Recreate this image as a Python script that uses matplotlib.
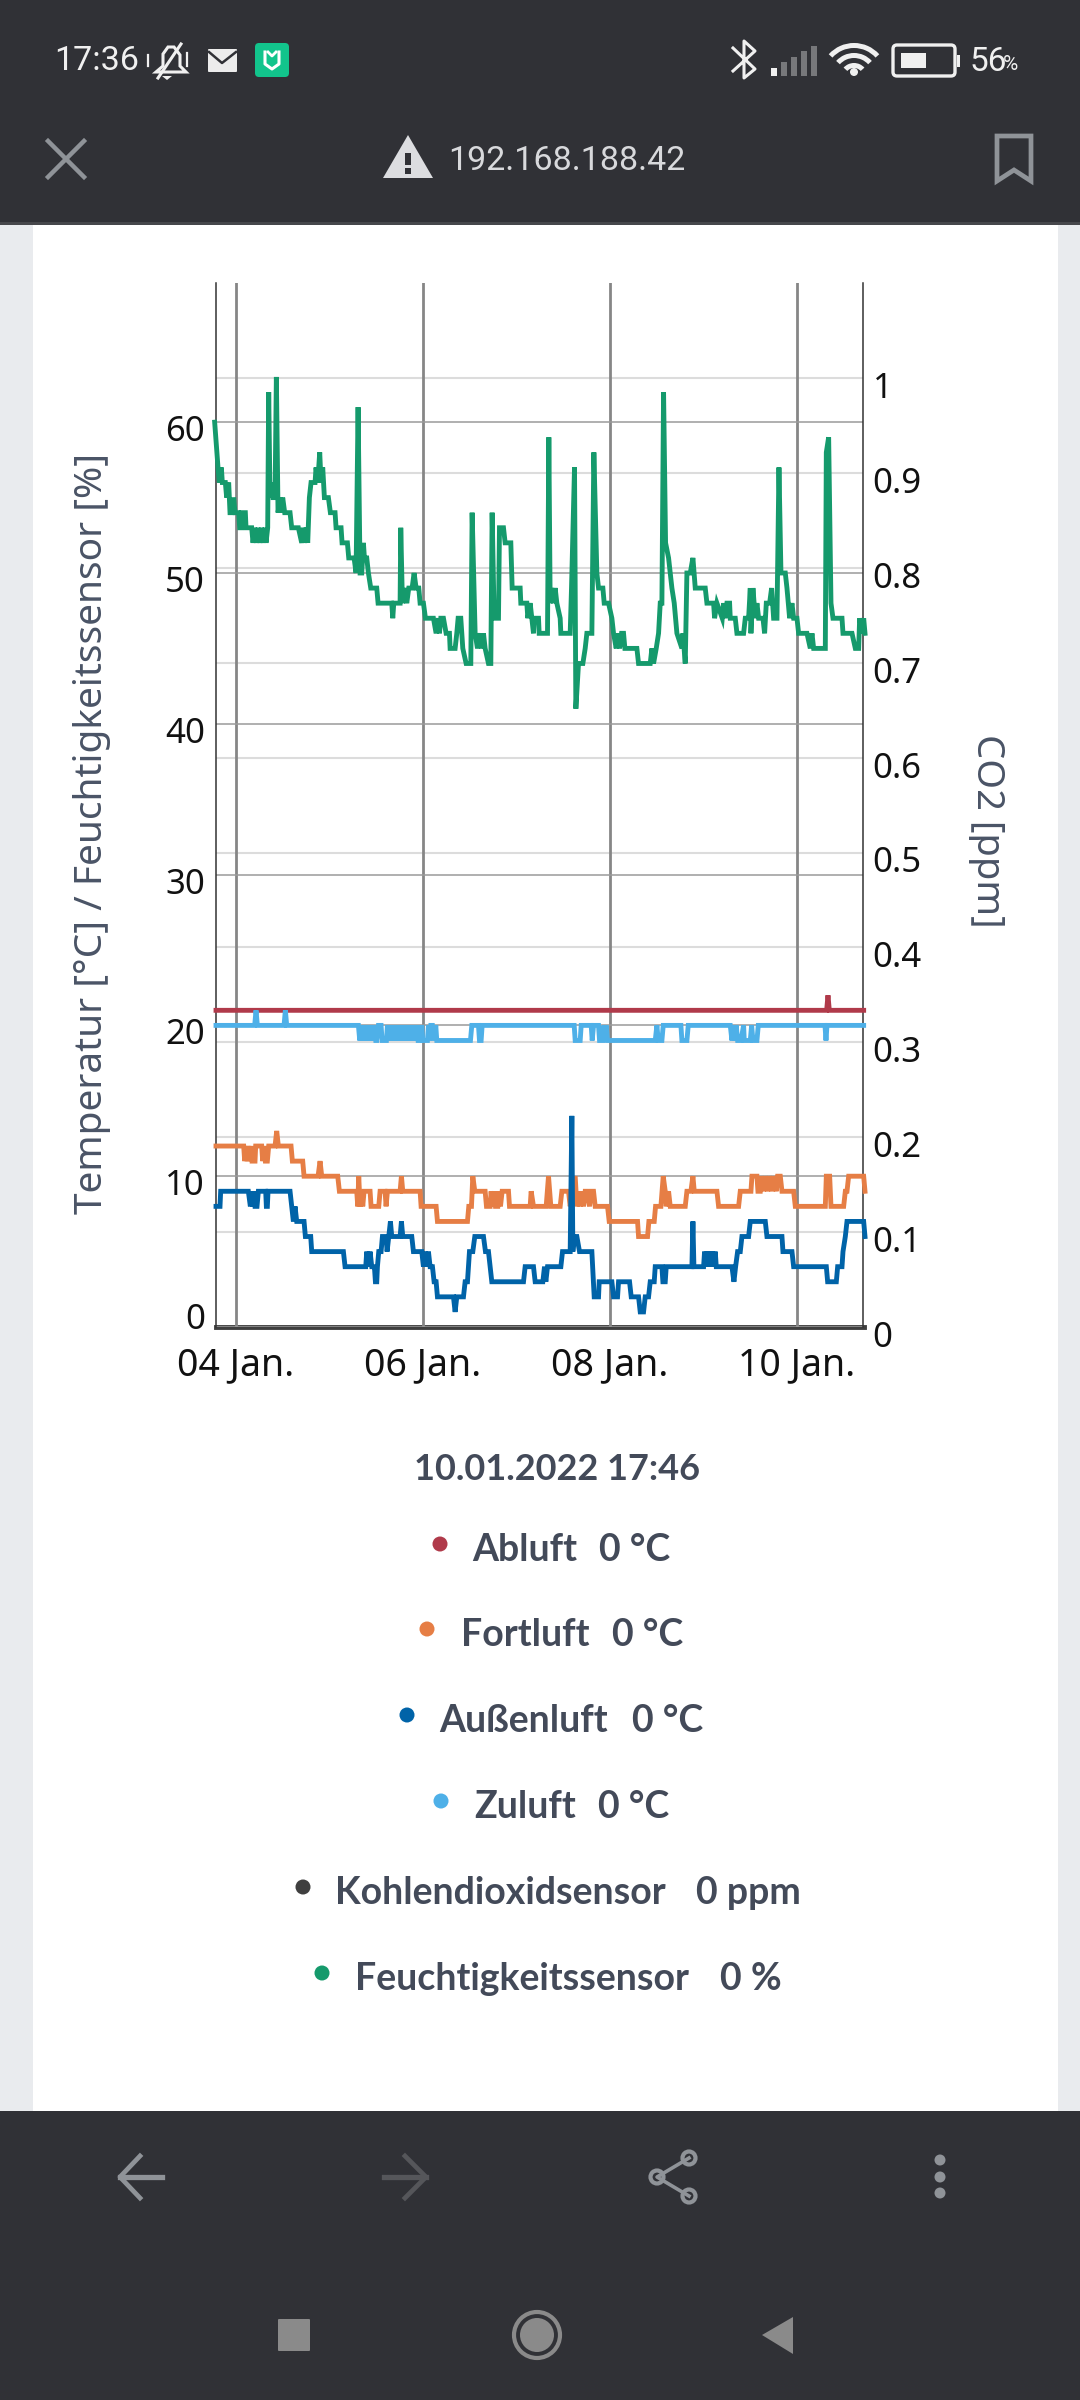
import numpy as np
import matplotlib
matplotlib.use('Agg')
import matplotlib.pyplot as plt
from matplotlib.patches import Rectangle, Circle, Polygon, FancyBboxPatch, Wedge
from matplotlib.transforms import ScaledTranslation

plt.rcParams['font.family'] = ['Noto Sans', 'DejaVu Sans']

# readings as (sample number, value), one sample is about 5 minutes, 0 = 04 Jan 00:00
SAMPLE_H = 48 / 561

abluft = [(-59, 21), (1772, 21), (1776, 22), (1780, 21), (1883, 21)]

fortluft = [(-59, 12), (24, 12), (27, 11), (31, 12), (34, 11), (38, 12), (41, 11), (46, 12), (49, 11), (58, 11), (60, 12),
            (78, 12), (81, 11), (85, 12), (89, 11), (95, 11), (99, 12), (118, 12), (123, 13), (128, 12), (166, 12), (170, 11),
            (201, 11), (205, 10), (247, 10), (253, 11), (258, 10), (306, 10), (311, 9), (363, 9), (366, 8), (369, 10),
            (373, 8), (378, 9), (381, 8), (385, 9), (403, 9), (406, 8), (429, 8), (433, 9), (448, 9), (451, 8), (455, 9),
            (493, 9), (497, 10), (501, 9), (553, 9), (556, 8), (601, 8), (605, 7), (695, 7), (699, 8), (707, 8), (711, 10),
            (717, 9), (748, 9), (752, 8), (763, 8), (766, 9), (770, 8), (776, 9), (779, 8), (786, 8), (789, 9), (794, 8),
            (799, 9), (818, 9), (821, 8), (883, 8), (886, 9), (893, 8), (931, 8), (938, 10), (945, 8), (973, 8), (978, 9),
            (998, 9), (1003, 8), (1018, 10), (1023, 8), (1028, 9), (1033, 8), (1038, 9), (1043, 8), (1048, 9), (1053, 9),
            (1061, 8), (1066, 9), (1073, 9), (1078, 8), (1115, 8), (1120, 7), (1205, 7), (1208, 6), (1235, 6), (1239, 7),
            (1255, 7), (1259, 8), (1275, 8), (1282, 10), (1288, 9), (1291, 8), (1298, 9), (1303, 8), (1348, 8), (1353, 9),
            (1365, 9), (1371, 10), (1375, 9), (1443, 9), (1448, 8), (1508, 8), (1513, 9), (1545, 9), (1548, 10), (1563, 10),
            (1566, 9), (1573, 9), (1576, 10), (1583, 9), (1588, 10), (1595, 9), (1601, 10), (1608, 9), (1613, 10), (1621, 9),
            (1625, 10), (1633, 10), (1638, 9), (1673, 9), (1678, 8), (1768, 8), (1771, 10), (1781, 10), (1785, 8), (1823, 8),
            (1828, 9), (1833, 9), (1838, 10), (1883, 10), (1887, 9)]

aussenluft = [(-59, 8), (-47, 8), (-45, 9), (38, 9), (44, 8), (48, 9), (52, 8), (55, 9), (58, 8), (64, 8), (68, 9), (90, 9),
              (92, 8), (95, 8), (97, 9), (163, 9), (168, 8), (173, 7), (178, 8), (183, 7), (205, 7), (209, 6), (225, 6),
              (228, 5), (323, 5), (328, 4), (390, 4), (393, 5), (398, 4), (403, 5), (408, 4), (416, 4), (419, 3), (423, 3),
              (425, 4), (429, 5), (436, 5), (440, 6), (451, 6), (454, 5), (459, 6), (464, 7), (468, 6), (493, 6), (497, 7),
              (501, 6), (528, 6), (533, 5), (558, 5), (563, 4), (568, 5), (573, 4), (578, 5), (583, 4), (590, 4), (595, 3),
              (601, 3), (605, 2), (653, 2), (658, 1), (663, 2), (683, 2), (688, 3), (695, 3), (701, 5), (711, 5), (717, 6),
              (743, 6), (749, 5), (758, 5), (763, 4), (768, 3), (863, 3), (868, 4), (893, 4), (898, 3), (921, 3), (926, 4),
              (930, 3), (935, 4), (975, 4), (980, 5), (1003, 5), (1008, 14), (1011, 5), (1015, 6), (1023, 6), (1031, 5),
              (1068, 5), (1075, 2), (1088, 2), (1090, 3), (1128, 3), (1133, 2), (1145, 2), (1148, 3), (1181, 3), (1186, 2),
              (1208, 2), (1213, 1), (1223, 1), (1228, 2), (1238, 2), (1243, 3), (1255, 3), (1258, 4), (1278, 4), (1281, 3),
              (1288, 3), (1291, 4), (1368, 4), (1371, 7), (1374, 4), (1403, 4), (1406, 5), (1410, 4), (1414, 5), (1418, 4),
              (1422, 5), (1426, 4), (1430, 5), (1434, 4), (1438, 5), (1441, 4), (1488, 4), (1494, 3), (1499, 4), (1505, 5),
              (1513, 5), (1518, 6), (1538, 6), (1543, 7), (1588, 7), (1593, 6), (1638, 6), (1641, 5), (1668, 5), (1673, 4),
              (1771, 4), (1775, 3), (1801, 3), (1805, 4), (1818, 4), (1821, 5), (1828, 6), (1833, 7), (1883, 7), (1887, 6)]

zuluft = [(-59, 20), (57, 20), (61, 21), (65, 20), (145, 20), (149, 21), (153, 20), (368, 20), (372, 19), (376, 20), (380, 19),
          (384, 20), (388, 19), (392, 20), (396, 19), (400, 20), (404, 19), (408, 20), (412, 19), (416, 20), (420, 19), (423, 19),
          (428, 20), (436, 20), (439, 19), (452, 19), (455, 20), (458, 19), (463, 20), (467, 19), (471, 20), (475, 19), (479, 20),
          (483, 19), (487, 20), (491, 19), (495, 20), (499, 19), (503, 20), (507, 19), (511, 20), (515, 19), (519, 20), (523, 19),
          (527, 20), (531, 19), (535, 20), (539, 19), (543, 20), (547, 19), (553, 19), (558, 20), (561, 19), (568, 19), (575, 19),
          (578, 20), (581, 19), (585, 20), (590, 20), (595, 19), (600, 20), (603, 19), (704, 19), (708, 20), (728, 20), (731, 19),
          (736, 19), (739, 20), (1015, 20), (1018, 19), (1033, 19), (1036, 20), (1066, 20), (1069, 19), (1073, 20), (1088, 20),
          (1091, 19), (1101, 19), (1104, 20), (1107, 19), (1111, 20), (1115, 19), (1258, 19), (1263, 20), (1267, 19), (1278, 19),
          (1282, 20), (1335, 20), (1338, 19), (1353, 19), (1357, 20), (1483, 20), (1488, 19), (1493, 20), (1497, 19), (1501, 20),
          (1505, 19), (1515, 19), (1523, 20), (1525, 19), (1543, 19), (1547, 20), (1551, 19), (1563, 19), (1567, 20), (1767, 20),
          (1770, 19), (1773, 20), (1883, 20)]

kohlendioxid = [(-59, 0.0), (1883, 0.0)]

feuchte = [(-63, 60), (-53, 57), (-49, 56), (-43, 57), (-40, 56), (-31, 56), (-27, 55), (-21, 56), (-17, 54), (-9, 54), (-6, 55),
           (-2, 54), (9, 54), (12, 53), (17, 53), (18, 54), (29, 54), (31, 53), (48, 53), (52, 52), (57, 53), (62, 52), (67, 53),
           (73, 52), (78, 53), (83, 52), (88, 53), (91, 52), (96, 53), (99, 62), (103, 55), (108, 56), (112, 55), (118, 55),
           (122, 63), (127, 54), (133, 55), (137, 54), (141, 55), (147, 54), (163, 54), (168, 53), (188, 53), (198, 52), (203, 53),
           (206, 52), (211, 53), (216, 52), (221, 55), (226, 56), (238, 56), (241, 57), (246, 56), (252, 58), (256, 56), (261, 57),
           (266, 55), (278, 55), (284, 54), (298, 54), (301, 53), (316, 53), (319, 52), (335, 52), (339, 51), (355, 51), (361, 50),
           (367, 61), (373, 50), (378, 50), (383, 52), (386, 51), (393, 51), (398, 50), (405, 49), (423, 49), (427, 48), (468, 48),
           (471, 47), (474, 48), (493, 48), (495, 53), (500, 48), (505, 49), (513, 48), (519, 49), (529, 49), (535, 50), (541, 49),
           (549, 49), (553, 48), (563, 48), (569, 47), (593, 47), (601, 46), (608, 47), (611, 46), (615, 47), (623, 47), (631, 46),
           (641, 46), (643, 45), (658, 45), (663, 46), (667, 47), (675, 47), (681, 45), (691, 44), (705, 44), (709, 54), (718, 46),
           (725, 45), (733, 46), (738, 45), (743, 46), (748, 45), (758, 44), (765, 44), (769, 54), (775, 47), (788, 47), (791, 53),
           (803, 53), (808, 52), (825, 52), (829, 49), (853, 49), (855, 48), (873, 48), (876, 47), (883, 48), (888, 47), (893, 46),
           (895, 47), (908, 47), (910, 46), (935, 46), (939, 59), (943, 48), (948, 49), (953, 48), (958, 49), (963, 48), (973, 47),
           (975, 46), (1003, 46), (1007, 49), (1016, 57), (1020, 41), (1028, 44), (1041, 44), (1048, 45), (1053, 46), (1068, 46),
           (1074, 58), (1083, 50), (1088, 49), (1101, 49), (1105, 48), (1118, 48), (1128, 47), (1133, 46), (1141, 45), (1145, 46),
           (1151, 45), (1157, 46), (1163, 46), (1167, 45), (1203, 45), (1208, 44), (1243, 44), (1248, 45), (1253, 44), (1261, 45),
           (1268, 46), (1273, 48), (1278, 48), (1283, 62), (1289, 52), (1298, 51), (1308, 49), (1315, 48), (1323, 46), (1338, 45),
           (1341, 46), (1348, 44), (1353, 50), (1363, 50), (1371, 51), (1378, 49), (1408, 49), (1413, 48), (1433, 48), (1436, 47),
           (1443, 48), (1459, 47), (1463, 48), (1468, 47), (1473, 48), (1481, 48), (1483, 47), (1498, 47), (1503, 46), (1523, 46),
           (1528, 47), (1538, 47), (1543, 49), (1545, 46), (1551, 49), (1558, 47), (1563, 48), (1568, 47), (1581, 47), (1586, 46),
           (1591, 48), (1601, 48), (1607, 49), (1613, 47), (1623, 47), (1629, 57), (1635, 50), (1648, 50), (1653, 49), (1661, 47),
           (1668, 48), (1673, 47), (1683, 47), (1688, 46), (1713, 46), (1723, 45), (1728, 46), (1733, 45), (1768, 45), (1771, 58),
           (1778, 59), (1785, 48), (1791, 47), (1818, 47), (1821, 46), (1848, 46), (1858, 45), (1868, 45), (1871, 47), (1878, 46),
           (1883, 47), (1887, 46)]

date_hours = [0, 48, 96, 144]
date_labels = ['04 Jan.', '06 Jan.', '08 Jan.', '10 Jan.']
left_ticks = [0, 10, 20, 30, 40, 50, 60]
right_ticks = [0, 0.1, 0.2, 0.3, 0.4, 0.5, 0.6, 0.7, 0.8, 0.9, 1]
right_labels = ['0', '0.1', '0.2', '0.3', '0.4', '0.5', '0.6', '0.7', '0.8', '0.9', '1']

legend_names = ['Abluft', 'Fortluft', 'Außenluft', 'Zuluft', 'Kohlendioxidsensor', 'Feuchtigkeitssensor']
legend_values = ['0 °C', '0 °C', '0 °C', '0 °C', '0 ppm', '0 %']
legend_colors = ['#b03a4a', '#e67e45', '#0063a8', '#4eb0e8', '#3f3f3f', '#159a6c']

W, H = 1080, 2400
fig = plt.figure(figsize=(W / 100, H / 100), dpi=100, facecolor='#ffffff')

# phone and browser frame, pixel coordinates
bg = fig.add_axes([0, 0, 1, 1], zorder=0)
bg.set_xlim(0, W)
bg.set_ylim(H, 0)
bg.axis('off')
DARK = '#303136'
ICON = '#8f9398'
bg.add_patch(Rectangle((0, 0), W, 222, fc=DARK, ec='none'))
bg.add_patch(Rectangle((0, 222), W, 3, fc='#46474b', ec='none'))
bg.add_patch(Rectangle((0, 225), 33, 1887, fc='#e9ebee', ec='none'))
bg.add_patch(Rectangle((1058, 225), 22, 1887, fc='#e9ebee', ec='none'))
bg.add_patch(Rectangle((0, 2111), W, 289, fc=DARK, ec='none'))

# status bar
bg.text(54, 61, '17:36', color='#f0f0f0', fontsize=24.5, family='Roboto', va='center', ha='left')
bg.text(970, 62, '56', color='#f0f0f0', fontsize=24, family='Roboto', va='center', ha='left')
bg.text(1003, 65, '%', color='#f0f0f0', fontsize=15, family='Roboto', va='center', ha='left')
# muted bell
bg.add_patch(Polygon([(156, 72), (163, 66), (163, 54), (168, 47), (174, 47), (180, 55), (180, 66), (186, 72)], closed=True, fc='none', ec='#f0f0f0', lw=2.2))
bg.plot([158, 181], [78, 44], color='#f0f0f0', lw=2.2)
bg.plot([148, 148], [55, 66], color='#f0f0f0', lw=1.6)
bg.plot([187, 187], [53, 66], color='#f0f0f0', lw=1.6)
bg.add_patch(Polygon([(162, 76), (172, 76), (167, 80)], closed=True, fc='#f0f0f0', ec='none'))
# mail
bg.add_patch(FancyBboxPatch((209, 50), 27, 21, boxstyle='round,pad=1', fc='#ececec', ec='none'))
bg.plot([209, 222, 236], [52, 63, 52], color=DARK, lw=1.8)
# app icon
bg.add_patch(FancyBboxPatch((259, 47), 26, 26, boxstyle='round,pad=4', fc='#12c48c', ec='none'))
bg.plot([265, 265, 272, 279, 279], [52, 64, 69, 64, 52], color='white', lw=2.2)
bg.plot([268, 272, 276], [52, 56, 52], color='white', lw=2)
# bluetooth
bg.plot([733, 755, 744, 744, 755, 733], [48, 69, 78, 41, 51, 71], color='#f0f0f0', lw=2.2)
# signal bars
for x, top, col in [(771, 68, '#f0f0f0'), (781, 62, '#77787b'), (791, 57, '#77787b'), (801, 51, '#77787b'), (811, 46, '#77787b')]:
    bg.add_patch(Rectangle((x, top), 6, 76 - top, fc=col, ec='none'))
# wifi
for r in [14, 24, 34]:
    bg.add_patch(Wedge((854, 77), r, 222, 318, width=5, fc='#f0f0f0', ec='none'))
bg.add_patch(Circle((854, 72), 4, fc='#f0f0f0', ec='none'))
# battery
bg.add_patch(FancyBboxPatch((897, 49), 54, 23, boxstyle='round,pad=4', fc='none', ec='#f0f0f0', lw=2.4))
bg.add_patch(Rectangle((901, 53), 25, 15, fc='#f0f0f0', ec='none'))
bg.add_patch(Rectangle((957, 55), 3, 12, fc='#f0f0f0', ec='none'))

# address row
bg.plot([48, 84], [141, 177], color=ICON, lw=3.2)
bg.plot([84, 48], [141, 177], color=ICON, lw=3.2)
bg.add_patch(Polygon([(408, 135), (383, 178), (433, 178)], closed=True, fc='#dcdde0', ec='none'))
bg.add_patch(Rectangle((405, 153), 6, 12, fc=DARK, ec='none'))
bg.add_patch(Rectangle((405, 168), 6, 6, fc=DARK, ec='none'))
bg.text(448, 161, '192.168.188.42', color='#d8d9dc', fontsize=24.5, family='Roboto', va='center', ha='left')
bg.add_patch(Polygon([(997, 136), (1031, 136), (1031, 181), (1014, 170), (997, 181)], closed=True, fc='none', ec=ICON, lw=3.4))

# navigation
bg.plot([140, 120, 140], [2156, 2177, 2198], color=ICON, lw=3.4)
bg.plot([120, 162], [2177, 2177], color=ICON, lw=3.8)
bg.plot([405, 426, 405], [2156, 2177, 2198], color='#55565a', lw=3.4)
bg.plot([384, 426], [2177, 2177], color='#55565a', lw=3.8)
bg.plot([689, 657, 689], [2158, 2177, 2196], color=ICON, lw=2.6)
for cx, cy in [(689, 2158), (657, 2177), (689, 2196)]:
    bg.add_patch(Circle((cx, cy), 6.5, fc=DARK, ec=ICON, lw=3))
for cy in [2160, 2177, 2193]:
    bg.add_patch(Circle((940, cy), 5.5, fc=ICON, ec='none'))
bg.add_patch(FancyBboxPatch((279, 2320), 30, 30, boxstyle='round,pad=1', fc='#8a8a8a', ec='none'))
bg.add_patch(Circle((537, 2335), 23, fc='none', ec='#8a8a8a', lw=3))
bg.add_patch(Circle((537, 2335), 17, fc='#8a8a8a', ec='none'))
bg.add_patch(Polygon([(762, 2335), (793, 2317), (793, 2354)], closed=True, fc='#8a8a8a', ec='none'))

# legend under the chart
TEXT = '#434a59'
LEGEND_FONT = 'Lato'
bg.text(557, 1470, '10.01.2022 17:46', color=TEXT, fontsize=26, family=LEGEND_FONT, fontweight='bold', ha='center', va='center')
dot_x = [440, 427, 407, 441, 303, 322]
dot_y = [1544, 1629, 1715, 1801, 1887, 1973]
name_x = [472, 461, 439, 474, 335, 355]
value_x = [599, 612, 632, 598, 696, 720]
for i in range(len(legend_names)):
    bg.add_patch(Circle((dot_x[i], dot_y[i]), 7.5, fc=legend_colors[i], ec='none'))
    bg.text(name_x[i], dot_y[i] + 6, legend_names[i], color=TEXT, fontsize=27, family=LEGEND_FONT, fontweight='bold', ha='left', va='center')
    bg.text(value_x[i], dot_y[i] + 6, legend_values[i], color=TEXT, fontsize=27, family=LEGEND_FONT, fontweight='bold', ha='left', va='center')

# chart, axes box in pixels
left, right, top, bottom = 216, 863, 283, 1327
ax = fig.add_axes([left / W, 1 - bottom / H, (right - left) / W, (bottom - top) / H], zorder=2)
ax.patch.set_alpha(0)
ax2 = ax.twinx()
ax2.set_zorder(1)
ax.set_zorder(3)
ax2.patch.set_visible(False)

ax.set_xlim(-59 * SAMPLE_H, 1881 * SAMPLE_H)
ax.set_ylim(0, (bottom - top) / 15.08)
ax2.set_ylim(0, (bottom - top) / 949)

ax.set_xticks(date_hours)
ax.set_xticklabels(date_labels)
ax.set_yticks(left_ticks)
ax2.set_yticks(right_ticks)
ax2.set_yticklabels(right_labels)

ax.grid(axis='x', color='#868686', lw=2.0)
ax.grid(axis='y', color='#9a9a9a', lw=1.1)
ax2.grid(axis='y', color='#dcdcdc', lw=1.5)
ax.set_axisbelow(True)

for a in (ax, ax2):
    for s in a.spines.values():
        s.set_visible(False)
ax.spines['left'].set_visible(True)
ax.spines['left'].set_color('#333333')
ax.spines['left'].set_linewidth(1.1)
ax.spines['right'].set_visible(True)
ax.spines['right'].set_color('#333333')
ax.spines['right'].set_linewidth(1.1)

ax.tick_params(axis='y', length=0, pad=8, labelsize=25, labelcolor='#111111')
ax.tick_params(axis='x', length=0, pad=14, labelsize=27, labelcolor='#111111')
ax2.tick_params(axis='y', length=0, pad=7, labelsize=25, labelcolor='#111111')

# plotly keeps its labels a little off the grid lines
for lab, val in zip(ax.get_yticklabels(), left_ticks):
    dy = 11 if val == 0 else -6
    lab.set_transform(lab.get_transform() + ScaledTranslation(0, dy / 100, fig.dpi_scale_trans))
for lab in ax2.get_yticklabels():
    lab.set_transform(lab.get_transform() + ScaledTranslation(0, -7 / 100, fig.dpi_scale_trans))

LW = 3.5
series = [(ax, abluft, legend_colors[0]), (ax, fortluft, legend_colors[1]), (ax, aussenluft, legend_colors[2]),
          (ax, zuluft, legend_colors[3]), (ax2, kohlendioxid, legend_colors[4]), (ax, feuchte, legend_colors[5])]
for target, rows, col in series:
    pts = np.array(rows, dtype=float)
    target.plot(pts[:, 0] * SAMPLE_H, pts[:, 1], color=col, lw=LW, clip_on=False, solid_joinstyle='miter', zorder=4)

bg.text(92, 833, 'Temperatur [°C] / Feuchtigkeitssensor [%]', color='#4a5466', fontsize=28, rotation=90, ha='center', va='center')
bg.text(987, 831, 'CO2 [ppm]', color='#4a5466', fontsize=27.5, rotation=270, ha='center', va='center')

fig.savefig('out.png', dpi=100)
